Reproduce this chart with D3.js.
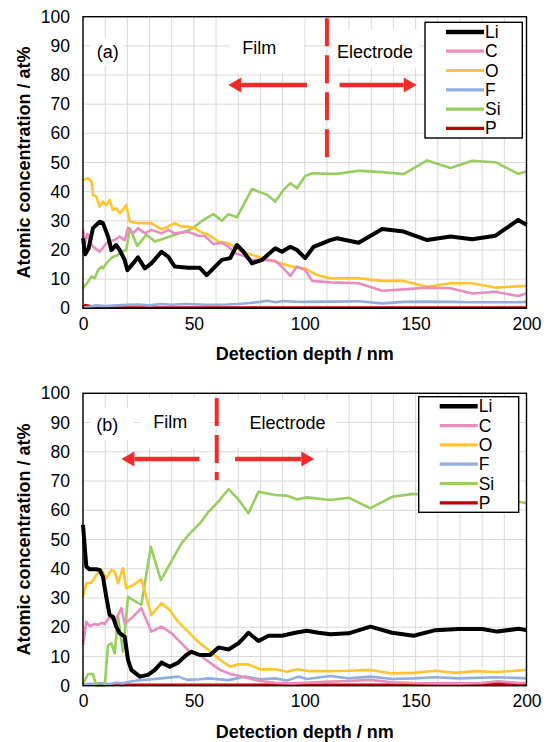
<!DOCTYPE html>
<html>
<head>
<meta charset="utf-8">
<script src="https://cdn.jsdelivr.net/npm/d3@7"></script>
<style>
  html, body { margin: 0; padding: 0; background: #fff; }
  svg { display: block; font-family: "Liberation Sans", Arial, sans-serif; }
</style>
</head>
<body>
<svg id="chart" width="549" height="742"></svg>
<script>
// Axis ticks and legend entries
const depthTicks = [0, 50, 100, 150, 200];
const concTicks = [0, 10, 20, 30, 40, 50, 60, 70, 80, 90, 100];
const elements = ["Li", "C", "O", "F", "Si", "P"];

// Panel (a): [detection depth / nm, atomic concentration / at%]
const liA = [[0,24],[1,18.5],[2.5,20.5],[4.5,27.5],[7.5,29.7],[9,29.2],[11.3,24.6],[12.8,20],[15,21.7],[16.5,20],[18.8,16.6],[20,13.1],[22.6,15.4],[24.8,17.5],[27.9,13.7],[30.8,15.4],[35.4,19.4],[38.4,17.7],[41.4,14.3],[47.4,13.9],[52.7,13.9],[55.8,11.4],[62.6,16.6],[66.4,17.2],[69.4,21.7],[72.4,19.4],[76.2,15.4],[80.7,16.6],[86.7,20.6],[89.7,19.4],[93.5,21.1],[96.5,20],[100.2,17.2],[104,21.1],[111.5,23.4],[114.5,24],[124.3,22.5],[134.9,27.2],[144.6,26.3],[155.2,23.4],[165.7,24.6],[175.5,23.7],[186,24.9],[196.3,30.3],[200,28.6]];
const cA = [[0,27],[1,22.5],[2,25.5],[4,21.5],[7.5,19.4],[11.3,22.9],[14.3,23.4],[16.5,24.6],[18.8,23.4],[20.3,27.5],[22.6,25.7],[24.8,27.5],[27.9,25.7],[30.8,26.9],[35.4,25.7],[38.4,26.9],[41.4,25.7],[47.4,26.3],[51.9,24.9],[55,24.8],[58.8,22],[62.6,22.5],[65.6,21.1],[68.6,18.9],[72.4,18],[76.2,16.6],[80.7,16.6],[86.7,16.3],[90.4,13.7],[93.5,11.1],[96.5,14.3],[100.2,13.1],[103.3,9.4],[111.5,8.9],[124.3,8.6],[134.9,6],[144.6,6.5],[155.2,7.1],[165.7,6.9],[175.5,5.1],[186,5.7],[196.3,4.2],[200,5.1]];
const oA = [[0,44],[2.3,44.6],[3.8,43.5],[4.5,38.9],[6,38.3],[7.5,34.9],[9,36.6],[10.5,35.5],[12,37.2],[13.5,33.7],[15,34.3],[16.5,32.6],[18,33.7],[19.5,35.5],[21.1,29.7],[24.8,29.2],[30.8,29.2],[35.4,27.1],[38.4,28],[41.4,29.2],[44.4,28],[47.4,28],[50.4,27.5],[53.6,26],[56.6,25.2],[61.1,22.9],[65.6,22.3],[71.6,19.4],[77.6,18],[86.7,16],[94.2,14.3],[100.2,13.7],[105.5,11.4],[111.5,10.3],[114.5,10.3],[124.3,10.3],[134.9,9.4],[144.6,9.4],[155.2,7.4],[165.7,8.6],[175.5,8.6],[186,7.1],[200,7.7]];
const fA = [[0,0.3],[3,0.5],[6,1],[10,0.8],[15,1],[20,1.2],[25,1.3],[30,1],[35,1.5],[40,1.2],[45,1.5],[50,1.4],[55,1.2],[60,1.2],[65,1.3],[70,1.5],[75,1.8],[80,2.2],[83,2.6],[87,2.1],[90,2.5],[95,2.3],[100,2.2],[111.5,2.3],[124.3,2.4],[134.9,1.7],[144.6,2.2],[155.2,2.3],[165.7,2.2],[175.5,2.1],[186,2.1],[196.3,2.1],[200,2.2]];
const siA = [[0,6.9],[2.3,9.1],[3.8,10.9],[5.3,10.3],[6.8,13.1],[8.3,14.3],[9,13.7],[10.5,15.4],[12,16.6],[13.5,17.7],[15.8,18.3],[17.3,19.4],[19.5,20],[21.1,27.5],[24.5,21.4],[28.6,25.2],[32.4,22.9],[36.9,24],[41.4,25.2],[45.9,26.3],[49.7,27.5],[52.7,29.4],[54.3,30.3],[58.8,32.3],[62.6,30],[65.6,32.3],[69.4,31.2],[76.2,40.9],[83,38.9],[86.7,36.6],[90.4,40.6],[93.5,42.9],[96.5,41.2],[100.2,45.4],[103.3,46.3],[111.5,46.1],[114.5,46.1],[124.3,47.2],[134.9,46.7],[144.6,46],[155.2,50.7],[165.7,48.1],[175.5,50.6],[186,50.1],[196.3,46.1],[200,46.9]];
const pA = [[0,0.3],[1,1.1],[3,0.8],[6,0.4],[10,0.3],[20,0.3],[50,0.3],[100,0.3],[150,0.3],[200,0.3]];

// Panel (b)
const liB = [[0,55],[1.5,40.7],[3,39.8],[6,39.8],[7.5,39.6],[9,37.3],[10.5,30.4],[12,24.2],[13.5,23.6],[15,20.2],[16.5,18],[18.8,16.8],[20.3,8.8],[21.8,5.4],[25.6,3.1],[29.3,3.7],[32.4,5.4],[35.4,7.9],[39.1,6.5],[42.9,7.9],[46.6,10.5],[48.9,11.6],[52.7,10.5],[57.3,10.5],[61.1,13.1],[65.6,12.4],[70.1,14.5],[74.6,18.1],[79.1,15.3],[83.7,17.1],[89.7,17.1],[95.7,18.1],[101,18.8],[106.2,18.1],[111.5,17.6],[119.8,17.9],[129.6,20.2],[139.4,18.1],[149.1,17.1],[158.9,19],[169.4,19.4],[180,19.4],[186.8,18.5],[196.5,19.5],[200,19]];
const cB = [[0,13.9],[1.5,21.9],[3,20.4],[5.3,21.1],[6.8,20.8],[8.3,21.5],[9.8,21.1],[12,23.6],[14.3,21.9],[17.3,26.5],[18.8,21.3],[22.6,23.6],[26.3,26.5],[30.8,18.5],[35.4,20.2],[40,17.9],[44.4,14.5],[48.2,11.6],[52.7,10.5],[56.6,8.2],[61.8,5.4],[66.4,4],[73.1,2.9],[79.1,1.7],[86.7,1],[94.2,0.8],[101,1],[111.5,1.4],[120,1.6],[129.6,2],[139.4,1.2],[149.1,0.9],[160,0.8],[170,0.8],[180,0.9],[187,1.5],[196.5,0.9],[200,1]];
const oB = [[0,30.4],[1.5,35],[3.8,35.2],[6,37.9],[8.3,39.6],[10.5,36.7],[12.8,39.6],[14.3,39],[15.8,35],[18,40.2],[19.5,33.3],[22.6,34.4],[26.3,36.4],[30.8,24.2],[35.4,28.2],[39.1,25.9],[42.9,21.9],[47.4,18.5],[52.7,14.5],[56.6,12.2],[61.8,8.8],[66.4,6.5],[70.1,7.3],[74.6,7.3],[79.9,5.6],[86.7,5.6],[92,4.8],[96.5,5.6],[101.7,5],[111.5,5],[119.8,5.1],[129.6,5.4],[139.4,4.2],[149.1,4.4],[158.9,5.1],[168,4.4],[177,5],[186.8,4.7],[200,5.4]];
const fB = [[0,0.5],[5,0.7],[8,0.9],[12,0.6],[15,1],[18,0.8],[22,1.5],[26,1.9],[31,2.2],[35.4,2.5],[42.9,3.1],[47,2],[52.7,2.2],[56.6,2.5],[65.6,1.9],[73.1,3.1],[79.9,2.2],[86.7,2.5],[92,1.8],[97.2,3.1],[101,2.3],[111.5,3.3],[119.8,2.5],[129.6,3.1],[139.4,2.3],[149.1,2.5],[158.9,2.9],[169.4,2.5],[186.8,2.9],[200,2.5]];
const siB = [[0,0.8],[2.3,4],[4.5,4],[6,0],[9.8,0],[11.3,13.9],[12.8,14.5],[14.3,11.1],[15.8,23.6],[18,11.6],[20.3,30.4],[26.3,27.6],[30.6,47.5],[35.1,36.1],[44.4,48.7],[48.2,52.1],[52.7,55.5],[56.6,59.5],[60.4,62.4],[65.6,67.2],[70.1,63.7],[74.6,59],[79.1,66.3],[86.7,65.2],[92,65],[96.5,63.7],[101,64.4],[111.5,63.5],[119.8,64.3],[129.6,60.7],[139.4,64.6],[149.1,65.6],[158.9,65],[169.4,64.5],[180,64],[186.8,63.5],[196.5,62.9],[200,62.4]];
const pB = [[0,0.3],[50,0.3],[100,0.3],[150,0.3],[180,0.4],[188,0.8],[195,0.4],[200,0.4]];

// Line styles per element
const styles = {
  Li: { color: "#000000", width: 4 },
  C:  { color: "#E88DBE", width: 2.6 },
  O:  { color: "#FFC42E", width: 2.6 },
  F:  { color: "#92AEDD", width: 2.6 },
  Si: { color: "#98CE5E", width: 2.6 },
  P:  { color: "#C00000", width: 2.6 }
};
const drawOrder = ["P", "F", "Si", "O", "C", "Li"];
const red = "#EE2C2C";

const panels = [
  {
    tag: "(a)", top: 16.7, bottom: 308.3,
    series: { Li: liA, C: cA, O: oA, F: fA, Si: siA, P: pA },
    boundary: { x: 110, y0: 51, y1: 99.5 },
    arrows: [{ from: 101, to: 65.5, y: 76.6 }, { from: 115.7, to: 150.5, y: 76.6 }],
    labels: [
      { text: "(a)",       x: 11.2,  y: 88,   box: [3.2, 18.1, 83, 92.6] },
      { text: "Film",      x: 79.5,  y: 89.2, box: [66.4, 99.8, 80.8, 99.7] },
      { text: "Electrode", x: 131.7, y: 88,   box: [112, 151.6, 82.4, 95.5] }
    ],
    legend: { x: 425, y: 22.3, w: 97.3, h: 115.7 }
  },
  {
    tag: "(b)", top: 393.3, bottom: 685.7,
    series: { Li: liB, C: cB, O: oB, F: fB, Si: siB, P: pB },
    boundary: { x: 60.3, y0: 70.3, y1: 98.4 },
    arrows: [{ from: 52.5, to: 17.3, y: 77.5 }, { from: 68.6, to: 104.3, y: 77.5 }],
    labels: [
      { text: "(b)",       x: 10.9, y: 89.3, box: [3.2, 23, 84.1, 95] },
      { text: "Film",      x: 39.3, y: 90.3, box: [25.7, 57.4, 81.4, 98.5] },
      { text: "Electrode", x: 92.2, y: 90,   box: [62.8, 114.2, 81.4, 97.8] }
    ],
    legend: { x: 418.7, y: 396.7, w: 100, h: 115.6 }
  }
];

const svg = d3.select("#chart");
const plotLeft = 83, plotRight = 526.5;

panels.forEach(p => {
  const x = d3.scaleLinear().domain([0, 200]).range([plotLeft, plotRight]);
  const y = d3.scaleLinear().domain([0, 100]).range([p.bottom, p.top]);
  const g = svg.append("g");

  // grid: every 10 nm and every 10 at%
  const gridX = d3.range(0, 201, 10);
  g.append("g").selectAll("line").data(gridX).join("line")
    .attr("x1", d => x(d)).attr("x2", d => x(d))
    .attr("y1", p.top).attr("y2", p.bottom)
    .attr("stroke", "#d9d9d9").attr("stroke-width", 1);
  g.append("g").selectAll("line").data(concTicks).join("line")
    .attr("x1", plotLeft).attr("x2", plotRight)
    .attr("y1", d => y(d)).attr("y2", d => y(d))
    .attr("stroke", "#d9d9d9").attr("stroke-width", 1);

  // white text boxes
  g.append("g").selectAll("rect").data(p.labels).join("rect")
    .attr("x", d => x(d.box[0])).attr("width", d => x(d.box[1]) - x(d.box[0]))
    .attr("y", d => y(d.box[3])).attr("height", d => y(d.box[2]) - y(d.box[3]))
    .attr("fill", "#fff");

  // axes (tick labels only)
  const yAxis = d3.axisLeft(y).tickValues(concTicks).tickSize(0).tickPadding(13);
  const ya = g.append("g").attr("transform", `translate(${plotLeft},0)`).call(yAxis);
  const xAxis = d3.axisBottom(x).tickValues(depthTicks).tickSize(0).tickPadding(9);
  const xa = g.append("g").attr("transform", `translate(0,${p.bottom})`).call(xAxis);
  [ya, xa].forEach(a => {
    a.select(".domain").remove();
    a.selectAll("text").attr("font-size", 17.5).attr("fill", "#000")
      .attr("font-family", "'Liberation Sans', Arial, sans-serif");
  });

  // data lines
  const line = d3.line().x(d => x(d[0])).y(d => y(d[1]));
  drawOrder.forEach(el => {
    g.append("path").datum(p.series[el])
      .attr("d", line).attr("fill", "none")
      .attr("stroke", styles[el].color).attr("stroke-width", styles[el].width)
      .attr("stroke-linejoin", "round").attr("stroke-linecap", "butt");
  });

  // film / electrode boundary
  g.append("line")
    .attr("x1", x(p.boundary.x)).attr("x2", x(p.boundary.x))
    .attr("y1", y(p.boundary.y1)).attr("y2", y(p.boundary.y0))
    .attr("stroke", red).attr("stroke-width", 4).attr("stroke-dasharray", "28,9");

  // arrows
  p.arrows.forEach(a => {
    const dir = Math.sign(a.to - a.from);
    const tipX = x(a.to), yy = y(a.y), head = 13, half = 7.5;
    g.append("line")
      .attr("x1", x(a.from)).attr("x2", tipX - dir * head)
      .attr("y1", yy).attr("y2", yy)
      .attr("stroke", red).attr("stroke-width", 4.5);
    g.append("path")
      .attr("d", `M${tipX},${yy} L${tipX - dir * head},${yy - half} L${tipX - dir * head},${yy + half} Z`)
      .attr("fill", red);
  });

  // annotation text
  g.append("g").selectAll("text").data(p.labels).join("text")
    .attr("x", d => x(d.x)).attr("y", d => y(d.y))
    .attr("text-anchor", "middle").attr("dominant-baseline", "central")
    .attr("font-size", 18).attr("fill", "#000")
    .text(d => d.text);

  // plot frame
  g.append("rect")
    .attr("x", plotLeft).attr("y", p.top)
    .attr("width", plotRight - plotLeft).attr("height", p.bottom - p.top)
    .attr("fill", "none").attr("stroke", "#000").attr("stroke-width", 1.4);

  // axis titles
  g.append("text")
    .attr("transform", `translate(30,${(p.top + p.bottom) / 2}) rotate(-90)`)
    .attr("text-anchor", "middle").attr("font-size", 18).attr("font-weight", "bold")
    .text("Atomic concentration / at%");
  g.append("text")
    .attr("x", (plotLeft + plotRight) / 2).attr("y", p.bottom + 52)
    .attr("text-anchor", "middle").attr("font-size", 18).attr("font-weight", "bold")
    .text("Detection depth / nm");

  // legend
  const L = p.legend;
  const lg = g.append("g").attr("transform", `translate(${L.x},${L.y})`);
  lg.append("rect").attr("width", L.w).attr("height", L.h)
    .attr("fill", "#fff").attr("stroke", "#000").attr("stroke-width", 1.4);
  const rows = lg.selectAll("g.row").data(elements).join("g")
    .attr("class", "row")
    .attr("transform", (d, i) => `translate(0,${9.6 + i * 19.3})`);
  rows.append("line")
    .attr("x1", 21).attr("x2", 59).attr("y1", 0).attr("y2", 0)
    .attr("stroke", d => styles[d].color)
    .attr("stroke-width", d => d === "Li" ? 4.5 : 3.2);
  rows.append("text")
    .attr("x", 60).attr("y", 0).attr("dominant-baseline", "central")
    .attr("font-size", 17.5).attr("fill", "#000")
    .text(d => d);
});
</script>
</body>
</html>
